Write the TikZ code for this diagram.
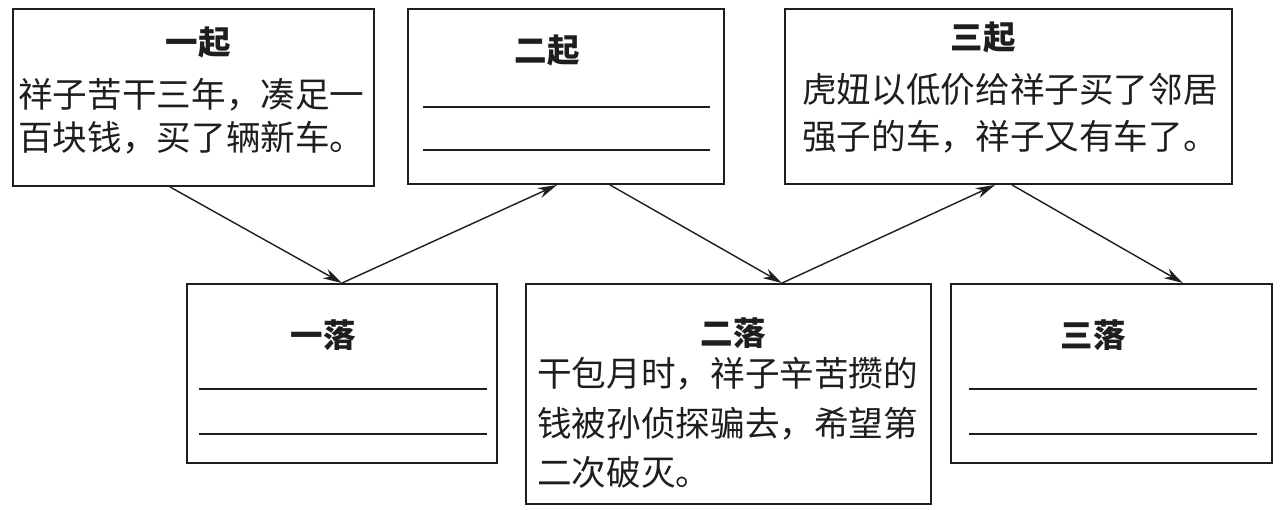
\documentclass[tikz,border=0pt]{standalone}
\usepackage{fontspec}
\setmainfont{Noto Sans CJK SC}
\usetikzlibrary{arrows.meta}
\definecolor{Ink}{HTML}{1E1E1E}

\begin{document}
\begin{tikzpicture}[x=0.02cm,y=-0.02cm,>={Stealth[length=11pt,width=6pt]},every node/.style={text=Ink},
 box/.style={draw=Ink,line width=1.1pt,inner sep=0pt},
 title/.style={font=\bfseries\fontsize{18.5}{22}\selectfont},
 body/.style={anchor=west,align=left,inner sep=0pt}]
\fill[white] (0,0) rectangle (1284,510);\useasboundingbox (0,0) rectangle (1284,510);
% boxes: qi = rise, luo = fall
\node[box,minimum width=7.22cm,minimum height=3.54cm] (qi1) at (193.5,97.5){};
\node[box,minimum width=6.32cm,minimum height=3.5cm] (qi2) at (566,96.5){};
\node[box,minimum width=8.94cm,minimum height=3.5cm] (qi3) at (1008.5,96.5){};
\node[box,minimum width=6.2cm,minimum height=3.58cm] (luo1) at (342,373.5){};
\node[box,minimum width=8.1cm,minimum height=4.4cm] (luo2) at (728.5,394){};
\node[box,minimum width=6.42cm,minimum height=3.58cm] (luo3) at (1111.5,373.5){};
\node[title] (t1) at (198,42){一起};\node[title] (t2) at (547,50){二起};\node[title] (t3) at (983,37){三起};
\node[title] (t4) at (323,335){一落};\node[title] (t5) at (733,333){二落};\node[title] (t6) at (1093,335){三落};
\node[body,font=\fontsize{19.7}{24.5}\selectfont] (s1) at (18,116.5){祥子苦干三年，凑足一\\百块钱，买了辆新车。};
\node[body,font=\fontsize{19.7}{26.7}\selectfont] (s3) at (802,113.5){虎妞以低价给祥子买了邻居\\强子的车，祥子又有车了。};
\node[body,font=\fontsize{19.7}{28}\selectfont] (s5) at (537,423){干包月时，祥子辛苦攒的\\钱被孙侦探骗去，希望第\\二次破灭。};
% blanks
\foreach \y in {107,150} \draw[line width=0.9pt,Ink] (423,\y)--(710,\y);
\foreach \y in {389,434} {\draw[line width=0.9pt,Ink] (199,\y)--(487,\y);\draw[line width=0.9pt,Ink] (969,\y)--(1257,\y);}
% zigzag
\draw[->,line width=0.8pt,Ink] ([xshift=-0.47cm]qi1.south)--(luo1.north);
\draw[->,line width=0.8pt,Ink] (luo1.north)--([xshift=-0.18cm]qi2.south);
\draw[->,line width=0.8pt,Ink] ([xshift=0.88cm]qi2.south)--([xshift=1.07cm]luo2.north);
\draw[->,line width=0.8pt,Ink] ([xshift=1.07cm]luo2.north)--([xshift=-0.27cm]qi3.south);
\draw[->,line width=0.8pt,Ink] ([xshift=0.07cm]qi3.south)--([xshift=1.43cm]luo3.north);
\end{tikzpicture}
\end{document}
